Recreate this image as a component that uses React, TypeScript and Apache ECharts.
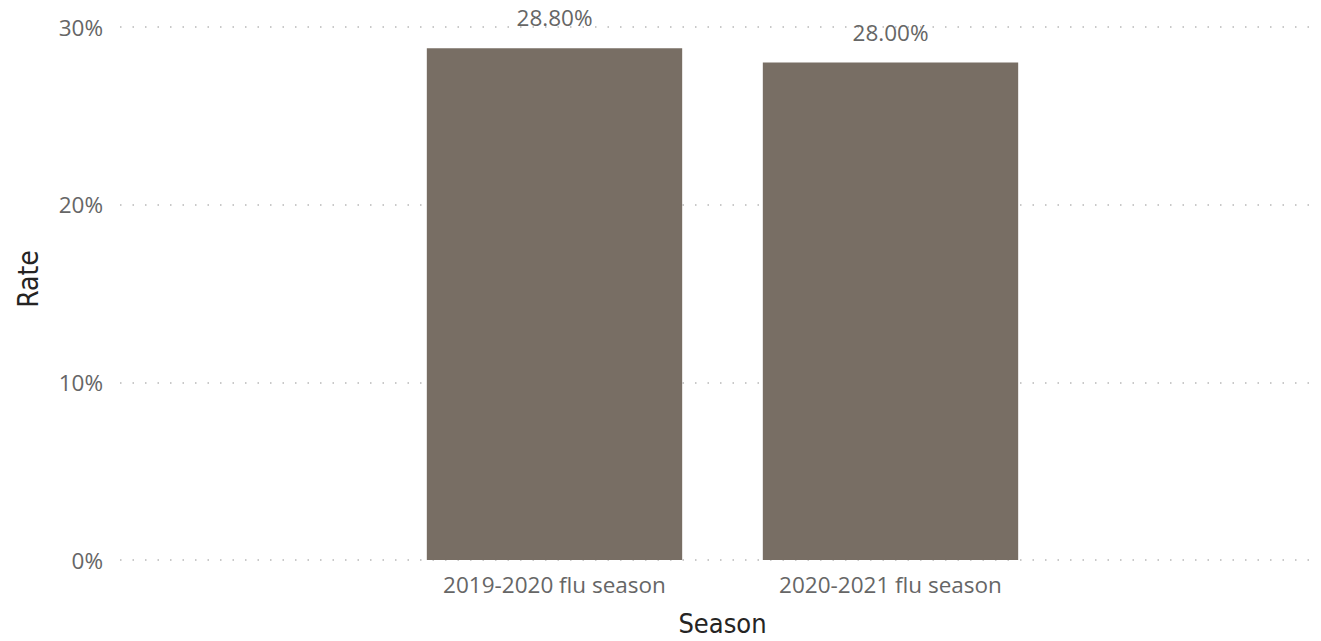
import React, { useEffect, useRef } from "react";
import * as echarts from "echarts";

const categories = ["2019-2020 flu season", "2020-2021 flu season"];
const rates = [28.8, 28.0];
const yTicks = { min: 0, max: 30, interval: 10 };

export default function App() {
  const ref = useRef<HTMLDivElement>(null);
  useEffect(() => {
    document.body.style.margin = "0";
    const chart = echarts.init(ref.current!, undefined, { renderer: "svg" });
    const font = "'Open Sans', 'Noto Sans', sans-serif";
    const titleFont = "'DejaVu Sans Condensed', 'DejaVu Sans', sans-serif";
    chart.setOption({
      animation: false,
      grid: [
        { left: 120, right: 8, top: 27, bottom: 81, outerBoundsMode: "none", containLabel: false },
        { left: 386.5, width: 672, top: 27, bottom: 81, outerBoundsMode: "none", containLabel: false },
      ],
      xAxis: [
        { gridIndex: 0, type: "value", show: false },
        {
          gridIndex: 1,
          type: "category",
          data: categories,
          axisLine: { show: false },
          axisTick: { show: false },
          axisLabel: { color: "#666666", fontSize: 22.5, fontFamily: font, margin: 13 },
          name: "Season",
          nameLocation: "middle",
          nameGap: 50,
          nameTextStyle: { color: "#252423", fontSize: 27, fontFamily: titleFont },
        },
      ],
      yAxis: [
        {
          gridIndex: 0,
          type: "value",
          min: yTicks.min,
          max: yTicks.max,
          interval: yTicks.interval,
          axisLine: { show: false },
          axisTick: { show: false },
          axisLabel: { formatter: "{value}%", color: "#666666", fontSize: 22.5, fontFamily: font, margin: 17 },
          splitLine: { lineStyle: { color: "#b8b8b8", type: [1.5, 11], width: 1.5 } },
        },
        {
          gridIndex: 1,
          type: "value",
          min: yTicks.min,
          max: yTicks.max,
          interval: yTicks.interval,
          show: false,
          splitLine: { show: false },
        },
      ],
      graphic: [
        {
          type: "text",
          x: 28,
          y: 279,
          rotation: Math.PI / 2,
          style: {
            text: "Rate",
            fill: "#252423",
            fontSize: 28,
            fontFamily: titleFont,
            align: "center",
            verticalAlign: "middle",
          },
        },
      ],
      series: [
        {
          type: "bar",
          xAxisIndex: 1,
          yAxisIndex: 1,
          data: rates,
          barCategoryGap: "24%",
          itemStyle: { color: "#786e64" },
          label: {
            show: true,
            position: "top",
            distance: 19,
            formatter: (p: any) => p.value.toFixed(2) + "%",
            color: "#666666",
            fontSize: 22.5,
            fontFamily: font,
          },
        },
      ],
    });
    return () => chart.dispose();
  }, []);
  return <div ref={ref} style={{ width: 1321, height: 641 }} />;
}
